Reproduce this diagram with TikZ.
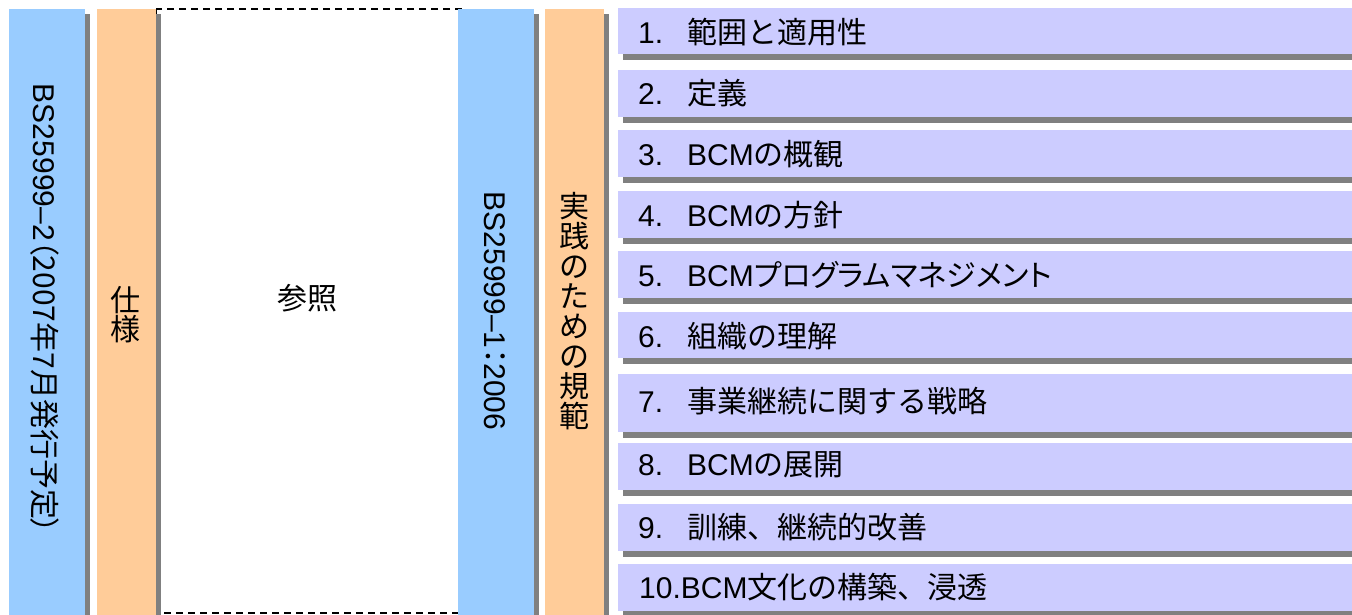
\documentclass[tikz,border=0pt]{standalone}
\usepackage{fontspec}
\setmainfont{Liberation Sans}
\newfontfamily\jp{Noto Sans CJK JP}
\newfontfamily\jpp[RawFeature=+palt]{Noto Sans CJK JP}
\usetikzlibrary{shadows}
\definecolor{colblue}{HTML}{99CCFF}
\definecolor{colorange}{HTML}{FFCC99}
\definecolor{itemfill}{HTML}{CCCCFF}
\definecolor{shadowgray}{HTML}{808080}
\tikzset{
  shad/.style={drop shadow={shadow xshift=5pt,shadow yshift=-5pt,fill=shadowgray,opacity=1}},
  colbox/.style={shad, draw=none, inner sep=0pt, minimum height=612pt, anchor=north west},
  itembox/.style={drop shadow={shadow xshift=5pt,shadow yshift=-6pt,fill=shadowgray,opacity=1},
    fill=itemfill, draw=none, inner sep=0pt, minimum width=745pt, anchor=north west},
  txt/.style={font=\fontsize{30}{30}\selectfont, inner sep=0pt},
  lbl/.style={txt, anchor=base west},
  refbox/.style={draw=black, line width=1.3pt, dash pattern=on 7pt off 5pt},
}
\begin{document}
\begin{tikzpicture}[x=1pt,y=-1pt]
\useasboundingbox (0,0) rectangle (1352,614);
\clip (0,0) rectangle (1352,614);
% dashed reference frame (its sides lie under the columns)
\draw[refbox] (156,9) rectangle (461,613);
\node[txt] (ref) at (307,298) {\jp 参照};
% columns
\node[colbox, fill=colblue, minimum width=76pt] (c1) at (9,9) {};
\node[colbox, fill=colorange, minimum width=59pt] (c2) at (97,9) {};
\node[colbox, fill=colblue, minimum width=76pt] (c3) at (458,9) {};
\node[colbox, fill=colorange, minimum width=59pt] (c4) at (545,9) {};
\node[txt, rotate=-90] (c1t) at (45,309) {BS25999–2{\jpp （2007年}7{\jpp 月発行予定）}};
\node[txt, align=center] (c2t) at (125,315) {\jp 仕\\[-1pt]\jp 様};
\node[txt, rotate=-90] (c3t) at (495,311) {BS25999–1{\jpp ：}2006};
\node[txt, align=center] (c4t) at (574.5,311) {\jp 実\\\jp 践\\\jp の\\\jp た\\\jp め\\\jp の\\\jp 規\\\jp 範};
% item boxes
\node[itembox, minimum height=46pt] (b1) at (618,8) {};
\node[itembox, minimum height=47pt] (b2) at (618,70) {};
\node[itembox, minimum height=47pt] (b3) at (618,130) {};
\node[itembox, minimum height=47pt] (b4) at (618,191) {};
\node[itembox, minimum height=47pt] (b5) at (618,251) {};
\node[itembox, minimum height=46pt] (b6) at (618,312) {};
\node[itembox, minimum height=58pt] (b7) at (618,374) {};
\node[itembox, minimum height=47pt] (b8) at (618,443) {};
\node[itembox, minimum height=47pt] (b9) at (618,504) {};
\node[itembox, minimum height=47pt] (b10) at (618,564) {};
% item labels
\node[lbl] (n1) at (638,43) {1.};
\node[lbl] (t1) at (687,43) {\jp 範囲と適用性};
\node[lbl] (n2) at (638,104) {2.};
\node[lbl] (t2) at (687,104) {\jp 定義};
\node[lbl] (n3) at (638,165) {3.};
\node[lbl] (t3) at (687,165) {BCM{\jp の概観}};
\node[lbl] (n4) at (638,226) {4.};
\node[lbl] (t4) at (687,226) {BCM{\jp の方針}};
\node[lbl] (n5) at (638,286) {5.};
\node[lbl] (t5) at (687,286) {BCM{\jpp プログラムマネジメント}};
\node[lbl] (n6) at (638,347) {6.};
\node[lbl] (t6) at (687,347) {\jp 組織の理解};
\node[lbl] (n7) at (638,412) {7.};
\node[lbl] (t7) at (687,412) {\jp 事業継続に関する戦略};
\node[lbl] (n8) at (638,475) {8.};
\node[lbl] (t8) at (687,475) {BCM{\jp の展開}};
\node[lbl] (n9) at (638,538) {9.};
\node[lbl] (t9) at (687,538) {\jp 訓練、継続的改善};
\node[lbl] (t10) at (639,598) {10.BCM{\jp 文化の構築、浸透}};
\end{tikzpicture}
\end{document}
